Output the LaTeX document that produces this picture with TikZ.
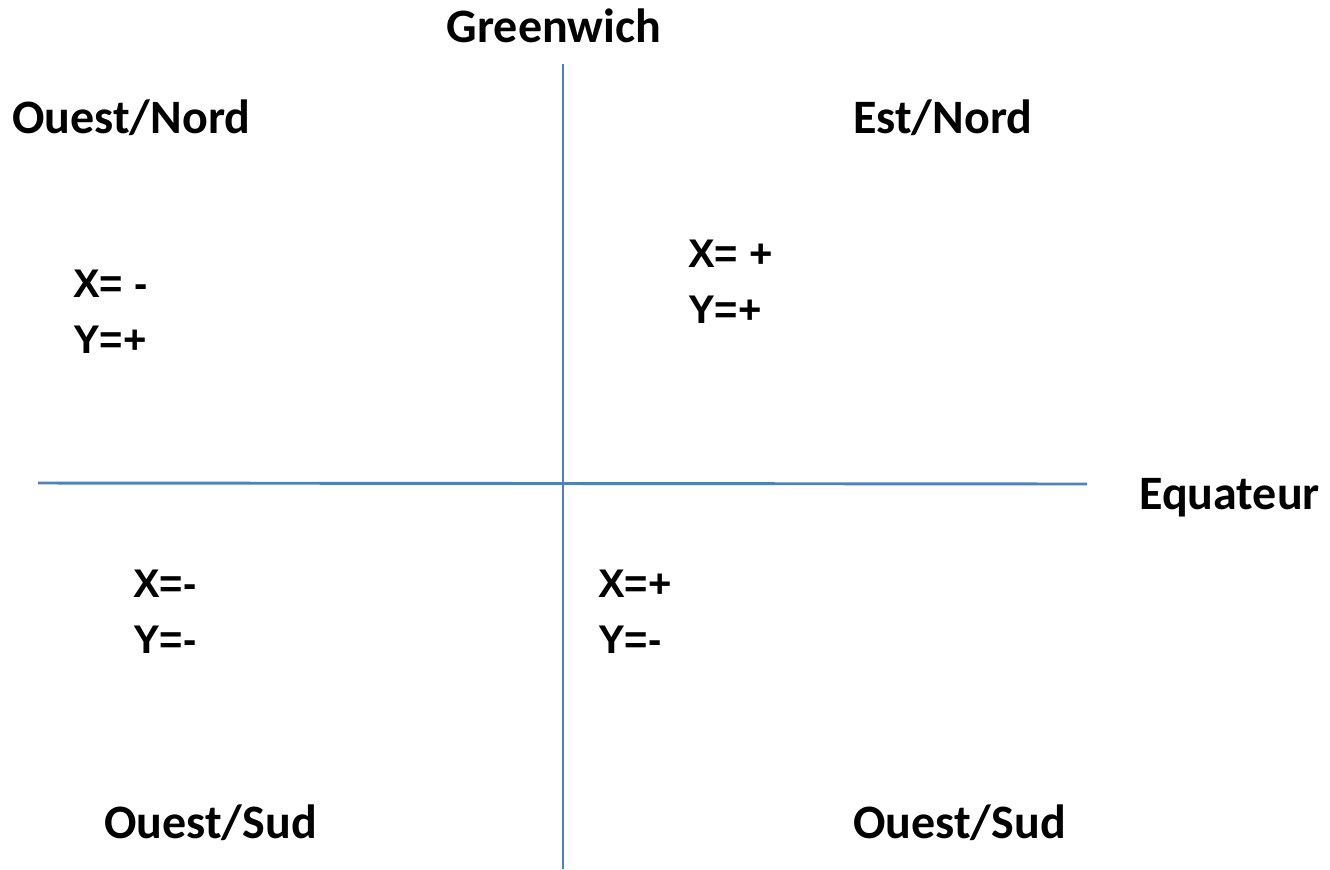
\documentclass[tikz,border=0pt]{standalone}
\usepackage{fontspec}
\setmainfont{Carlito}
\newfontfamily\signfont{Liberation Sans}
\definecolor{axisblue}{HTML}{4F81BD}
\begin{document}
\begin{tikzpicture}[x=0.75pt,y=-0.75pt,
  axis/.style={draw=axisblue,line width=2.2pt},
  region/.style={anchor=base west,inner sep=0pt,font=\fontsize{36}{43}\selectfont\bfseries},
  sign/.style={anchor=base west,inner sep=0pt,font=\signfont\fontsize{30}{36}\selectfont\bfseries}]
\useasboundingbox (0,0) rectangle (1330,869);
% axes
\coordinate (gn) at (563,64);
\coordinate (gs) at (563,869);
\coordinate (ew) at (38,483);
\coordinate (ee) at (1087,484);
\draw[axis] (gn) -- (gs);
\draw[axis] (ew) -- (ee);
% axis names
\node[region,anchor=base] (greenwich) at (554,42) {Greenwich};
\node[region] (equateur) at (1139,509) {Equateur};
% quadrant names
\node[region] (on) at (12,133) {Ouest/Nord};
\node[region] (en) at (853,133) {Est/Nord};
\node[region] (os1) at (104,838) {Ouest/Sud};
\node[region] (os2) at (853,838) {Ouest/Sud};
% signs of the coordinates
\node[sign] (x1) at (73,297) {X= -};
\node[sign] (y1) at (73,353) {Y=+};
\node[sign] (x2) at (688,267) {X= +};
\node[sign] (y2) at (688,323) {Y=+};
\node[sign] (x3) at (133,597) {X=-};
\node[sign] (y3) at (133,653) {Y=-};
\node[sign] (x4) at (598,597) {X=+};
\node[sign] (y4) at (598,653) {Y=-};
\end{tikzpicture}
\end{document}
